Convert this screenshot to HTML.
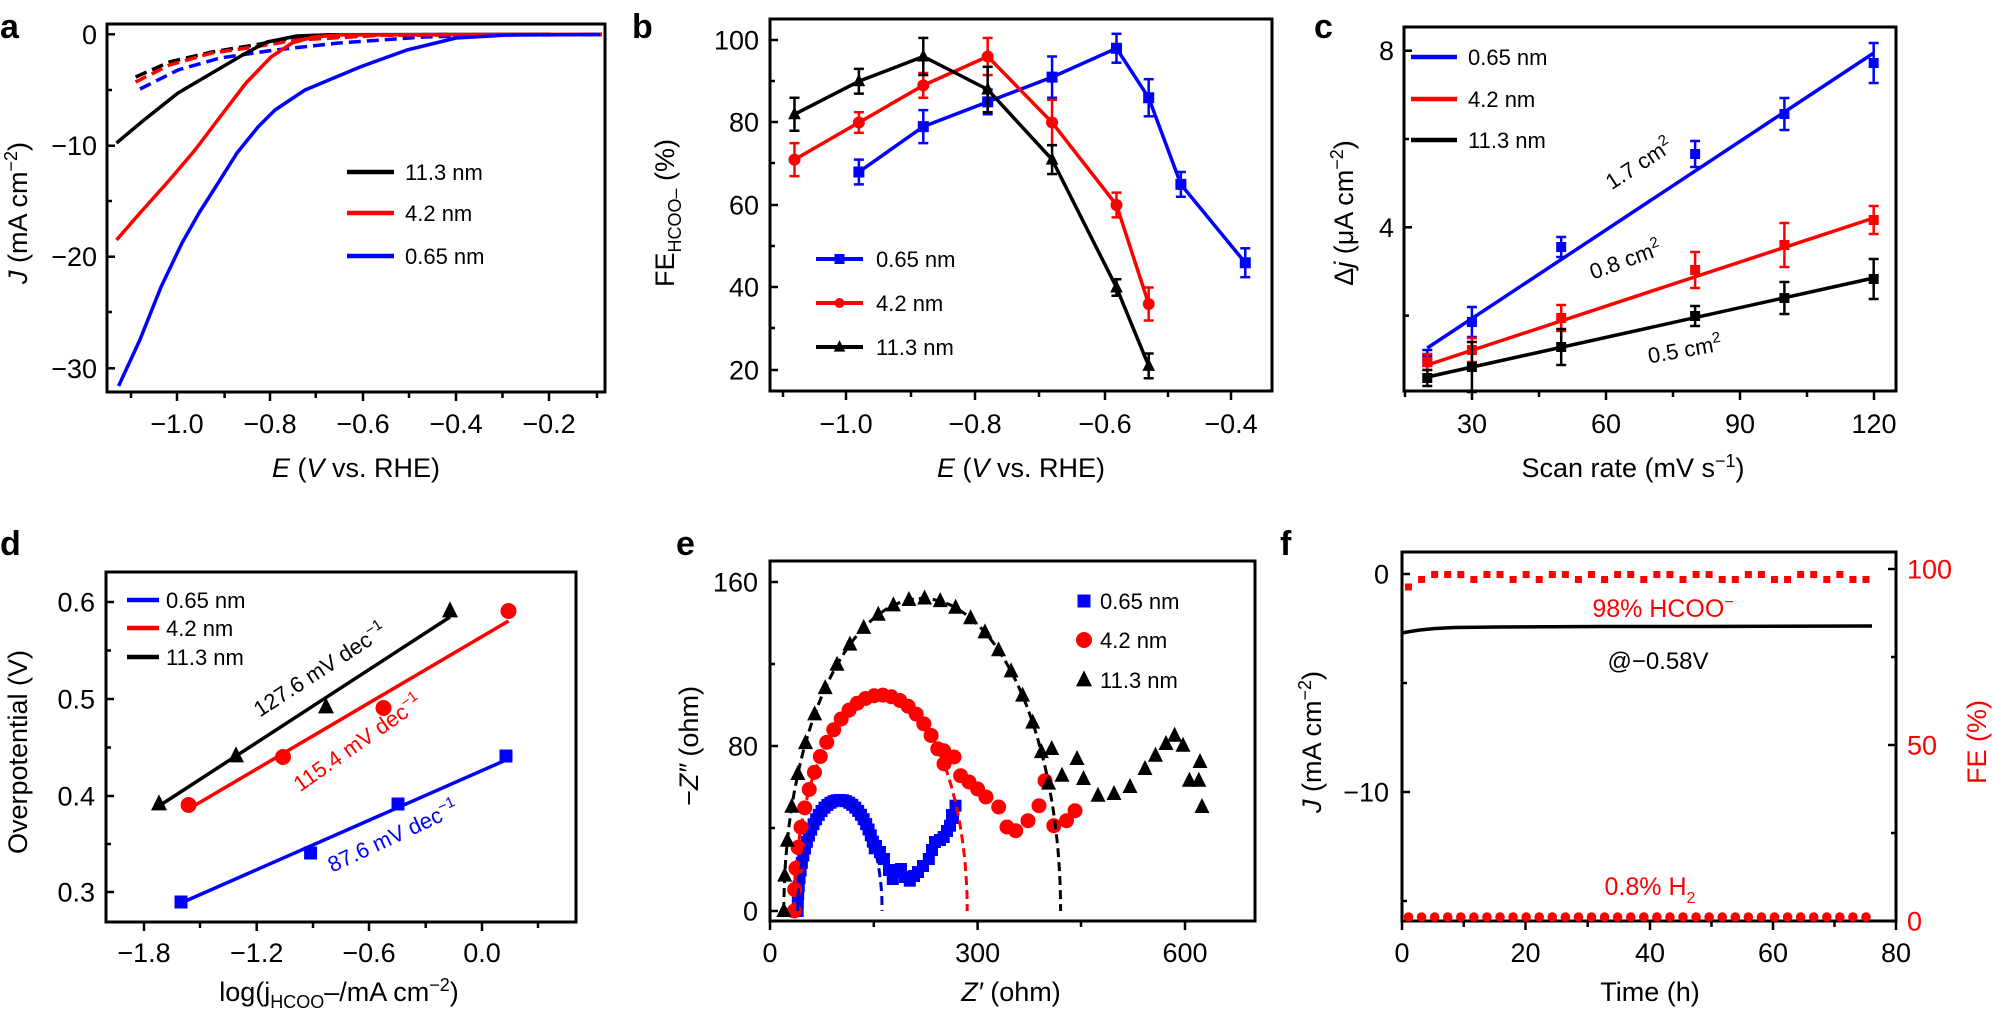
<!DOCTYPE html>
<html><head><meta charset="utf-8">
<style>
html,body{margin:0;padding:0;background:#fff;}
svg{display:block;font-family:"Liberation Sans",Arial,sans-serif;}
</style></head>
<body>
<svg id="s" width="1992" height="1018" viewBox="0 0 1992 1018" xmlns="http://www.w3.org/2000/svg"></svg>
<script>
var o='';
var B='#000',R='#ff0000',U='#0000ff';
function pl(p,c,w,d){o+='<polyline points="'+p.map(function(q){return q[0].toFixed(1)+','+q[1].toFixed(1)}).join(' ')+'" fill="none" stroke="'+c+'" stroke-width="'+w+'"'+(d?' stroke-dasharray="'+d+'"':'')+' stroke-linejoin="round"/>';}
function ln(a,b,c,d,col,w){o+='<line x1="'+a+'" y1="'+b+'" x2="'+c+'" y2="'+d+'" stroke="'+(col||B)+'" stroke-width="'+(w||2)+'"/>';}
function tx(x,y,t,sz,col,anc,ex){o+='<text x="'+x+'" y="'+y+'" font-size="'+sz+'" fill="'+(col||B)+'" text-anchor="'+(anc||'start')+'" '+(ex||'')+'>'+t+'</text>';}
function rt(x,y,t,sz,col,ang){o+='<text transform="translate('+x+','+y+') rotate('+ang+')" font-size="'+sz+'" fill="'+(col||B)+'" text-anchor="middle">'+t+'</text>';}
function sq(x,y,s,c){o+='<rect x="'+(x-s/2)+'" y="'+(y-s/2)+'" width="'+s+'" height="'+s+'" fill="'+c+'"/>';}
function ci(x,y,r,c){o+='<circle cx="'+x+'" cy="'+y+'" r="'+r+'" fill="'+c+'"/>';}
function tr(x,y,s,c){o+='<polygon points="'+x+','+(y-s*0.6)+' '+(x-s/2)+','+(y+s*0.4)+' '+(x+s/2)+','+(y+s*0.4)+'" fill="'+c+'"/>';}
function mk(t,x,y,c,s){if(t=='s')sq(x,y,s,c);else if(t=='c')ci(x,y,s/2,c);else tr(x,y,s*1.15,c);}
function ax(x0,y0,x1,y1,xM,xm,yM,ym,rM,rm){
 o+='<rect x="'+x0+'" y="'+y0+'" width="'+(x1-x0)+'" height="'+(y1-y0)+'" fill="none" stroke="#000" stroke-width="3"/>';
 xM.forEach(function(x){ln(x,y1,x,y1+9,B,2.5)});xm.forEach(function(x){ln(x,y1,x,y1+6,B,2.5)});
 yM.forEach(function(y){ln(x0,y,x0+8,y,B,2.5)});ym.forEach(function(y){ln(x0,y,x0+5,y,B,2.5)});
 if(rM){rM.forEach(function(y){ln(x1,y,x1-8,y,B,2.5)});rm.forEach(function(y){ln(x1,y,x1-5,y,B,2.5)});}
}
var TS=27;
// ===== Panel a =====
tx(0,38,'a',34,B,'start','font-weight="bold"');
ax(107,24,605,392,[177,270,363,456,549],[131,224.6,315.7,409,502.5,597],[34.3,145.7,256.7,368.3],[90,201,312]);
[['0',34.3],['\u221210',145.7],['\u221220',256.7],['\u221230',368.3]].forEach(function(a){tx(97,a[1]+9.5,a[0],TS,B,'end')});
[['\u22121.0',177],['\u22120.8',270],['\u22120.6',363],['\u22120.4',456],['\u22120.2',549]].forEach(function(a){tx(a[1],433,a[0],TS,B,'middle')});
tx(356,477,'<tspan font-style="italic">E</tspan> (<tspan font-style="italic">V</tspan> vs. RHE)',27,B,'middle');
rt(27,213,'<tspan font-style="italic">J</tspan> (mA cm<tspan dy="-10" font-size="18">\u22122</tspan><tspan dy="10">)</tspan>',27,B,-90);
pl([[135.6,77],[169.5,62],[212,52],[254,45],[297,37.5],[381,35],[450,34.5]],B,3.5,'12 6');
pl([[135.6,82],[169.5,65],[212,53],[254,47],[297,40],[381,35.3],[602,34.7]],R,3.5,'12 6');
pl([[140,89],[178,70],[220,58],[275,50],[339,43],[424,37],[508,34.7],[602,34.7]],U,3.5,'12 6');
pl([[116.5,143],[144,120],[178,93],[212,73],[246,53],[267,42],[297,36],[330,34.7],[551,34.3]],B,3.5);
pl([[116.5,240],[140,213],[169.5,180],[195,150],[220,117],[246,83],[271,57],[292,43],[313.5,37],[339,35],[602,34.3]],R,3.5);
pl([[118.6,386],[139.8,340],[161,287],[182,243],[199,213],[220,180],[237,153],[258,127],[275,110],[305,90],[360,67],[407,50],[456,38],[508,35],[600,34.5]],U,3.5);
[[B,'11.3 nm',172],[R,'4.2 nm',213],[U,'0.65 nm',256]].forEach(function(a){ln(347,a[2],394,a[2],a[0],4.5);tx(405,a[2]+8,a[1],22,B)});
// ===== Panel b =====
tx(632,38,'b',34,B,'start','font-weight="bold"');
ax(770,19,1272,391,[846,975,1105,1231],[783,911,1039,1168],[40,122,205,287,370],[81,163,246,328]);
[['100',40],['80',122],['60',205],['40',287],['20',370]].forEach(function(a){tx(759,a[1]+9.5,a[0],TS,B,'end')});
[['\u22121.0',846],['\u22120.8',975],['\u22120.6',1105],['\u22120.4',1231]].forEach(function(a){tx(a[1],433,a[0],TS,B,'middle')});
tx(1021,477,'<tspan font-style="italic">E</tspan> (<tspan font-style="italic">V</tspan> vs. RHE)',27,B,'middle');
rt(674,213,'FE<tspan dy="7" font-size="18">HCOO\u2013</tspan><tspan dy="-7"> (%)</tspan>',27,B,-90);
function bx(v){return 846+(v+1)*644;} function by(v){return 370-(v-20)*4.125;}
function ser(d,c,t,xf,yf,s){var p=d.map(function(q){return [xf(q[0]),yf(q[1])]});pl(p,c,3.5);
 d.forEach(function(q){var x=xf(q[0]),y=yf(q[1]),e=q[2]*4.125;ln(x,y-e,x,y+e,c,2.5);ln(x-5,y-e,x+5,y-e,c,2.5);ln(x-5,y+e,x+5,y+e,c,2.5);mk(t,x,y,c,s)});}
ser([[-0.98,68,3],[-0.88,79,4],[-0.78,85,3],[-0.68,91,5],[-0.58,98,3.5],[-0.53,86,4.5],[-0.48,65,3],[-0.38,46,3.5]],U,'s',bx,by,11);
ser([[-1.08,71,4],[-0.98,80,2.5],[-0.88,89,3],[-0.78,96,4.5],[-0.68,80,5.5],[-0.58,60,3],[-0.53,36,4]],R,'c',bx,by,12);
ser([[-1.08,82,4],[-0.98,90,3],[-0.88,96,4.5],[-0.78,88,5.5],[-0.68,71,3.5],[-0.58,40,2],[-0.53,21,3]],B,'t',bx,by,11);
[[U,'0.65 nm',259,'s'],[R,'4.2 nm',303,'c'],[B,'11.3 nm',347,'t']].forEach(function(a){ln(816,a[2],863,a[2],a[0],4);mk(a[3],839.5,a[2],a[0],10);tx(876,a[2]+8,a[1],22,B)});
// ===== Panel c =====
tx(1314,38,'c',34,B,'start','font-weight="bold"');
ax(1404,27,1896,391,[1472,1606,1740,1874],[1405,1539,1673,1807],[50.7,227.3],[139,315.6]);
[['8',50.7],['4',227.3]].forEach(function(a){tx(1394,a[1]+9.5,a[0],TS,B,'end')});
[['30',1472],['60',1606],['90',1740],['120',1874]].forEach(function(a){tx(a[1],433,a[0],TS,B,'middle')});
tx(1633,477,'Scan rate (mV s<tspan dy="-10" font-size="18">\u22121</tspan><tspan dy="10">)</tspan>',27,B,'middle');
rt(1353,213,'\u0394<tspan font-style="italic">j</tspan> (\u03bcA cm<tspan dy="-10" font-size="18">\u22122</tspan><tspan dy="10">)</tspan>',27,B,-90);
function cx(v){return 1338+v*4.464;}
function cs(pts,line,c){pl([[cx(20),line[0]],[cx(120),line[1]]],c,3.5);pts.forEach(function(q){var x=cx(q[0]),y=q[1],e=q[2];ln(x,y-e,x,y+e,c,2.5);ln(x-5,y-e,x+5,y-e,c,2.5);ln(x-5,y+e,x+5,y+e,c,2.5);sq(x,y,10,c)});}
cs([[20,358,8],[30,322,15],[50,247,10],[80,154,13],[100,114,16],[120,63,20]],[348,53],U);
cs([[20,362,8],[30,350,12],[50,318,13],[80,270,18],[100,245,22],[120,220,14]],[365,218],R);
cs([[20,378,8],[30,367,25],[50,347,18],[80,316,10],[100,298,16],[120,279,20]],[377,278],B);
[[U,'0.65 nm',57],[R,'4.2 nm',99],[B,'11.3 nm',140]].forEach(function(a){ln(1411,a[2],1457,a[2],a[0],4.5);tx(1468,a[2]+8,a[1],22,B)});
rt(1643,170,'1.7 cm<tspan dy="-9" font-size="15">2</tspan>',22,B,-33);
rt(1628,267,'0.8 cm<tspan dy="-9" font-size="15">2</tspan>',22,B,-20);
rt(1686,357,'0.5 cm<tspan dy="-9" font-size="15">2</tspan>',22,B,-10);
// ===== Panel d =====
tx(0,555,'d',34,B,'start','font-weight="bold"');
ax(106,572,576,922,[144,256.7,369,482],[200,313,425.7,538],[602,699,796,892],[650.5,747.5,844]);
[['0.6',602],['0.5',699],['0.4',796],['0.3',892]].forEach(function(a){tx(95,a[1]+9.5,a[0],TS,B,'end')});
[['\u22121.8',144],['\u22121.2',256.7],['\u22120.6',369],['0.0',482]].forEach(function(a){tx(a[1],962,a[0],TS,B,'middle')});
tx(339,1001,'log(j<tspan dy="7" font-size="18">HCOO</tspan><tspan dy="-7">\u2013/mA cm</tspan><tspan dy="-10" font-size="18">\u22122</tspan><tspan dy="10">)</tspan>',27,B,'middle');
rt(27,752,'Overpotential (V)',27,B,-90);
pl([[159,806],[450,617]],B,3.5);[[159,804],[236,756],[326,707],[450,611]].forEach(function(p){tr(p[0],p[1],16,B)});
pl([[188.6,809],[508.5,621]],R,3.5);[[188.6,805],[283,757],[383.5,708],[508.5,611]].forEach(function(p){ci(p[0],p[1],8,R)});
pl([[181,903],[506,760]],U,3.5);[[181,902],[310.6,853],[398,804],[506,756]].forEach(function(p){sq(p[0],p[1],13,U)});
[[U,'0.65 nm',600],[R,'4.2 nm',628],[B,'11.3 nm',657]].forEach(function(a){ln(127,a[2],159,a[2],a[0],4.5);tx(166,a[2]+8,a[1],22,B)});
rt(324,676,'127.6 mV dec<tspan dy="-9" font-size="15">\u22121</tspan>',22,B,-33);
rt(362,749,'115.4 mV dec<tspan dy="-9" font-size="15">\u22121</tspan>',22,R,-35);
rt(396,843,'87.6 mV dec<tspan dy="-9" font-size="15">\u22121</tspan>',22,U,-25);
// ===== Panel e =====
tx(676,555,'e',34,B,'start','font-weight="bold"');
ax(770,561,1255,921,[770,977.6,1185],[873.8,1081],[582,746,911],[664,828]);
[['160',582],['80',746],['0',911]].forEach(function(a){tx(758,a[1]+9.5,a[0],TS,B,'end')});
[['0',770],['300',977.6],['600',1185]].forEach(function(a){tx(a[1],962,a[0],TS,B,'middle')});
tx(1011,1001,'<tspan font-style="italic">Z\u2032</tspan> (ohm)',27,B,'middle');
rt(698,746,'\u2212<tspan font-style="italic">Z\u2033</tspan> (ohm)',27,B,-90);
function ex(z){return 770+0.692*z;} function ey(z){return 911-2.056*z;}
function ell(c,a,b,t0,t1,n){var p=[];for(var i=0;i<=n;i++){var t=t0+(t1-t0)*i/n;p.push([ex(c+a*Math.cos(t)),ey(b*Math.sin(t))]);}return p;}
ell(101,61,54,Math.PI,0.6,34).forEach(function(p){sq(p[0],p[1],12,U)});
[[876,846],[880,852],[884,859],[889,870],[892.8,879],[897,872],[901,869],[905,877],[909.8,880.7],[914,876],[918,872],[923,866],[928.8,859],[932,850],[935,842],[940,840],[943.7,837],[947,831],[950,825.7],[952,815],[955.5,805.7],[953,818]].forEach(function(p){sq(p[0],p[1],12,U)});
ell(160,125,105,Math.PI,0.75,24).forEach(function(p){ci(p[0],p[1],7.5,R)});
[[943.7,750.7],[954,757],[960.6,775.7],[969,782],[977.6,789],[986,797],[998.7,807],[1007,827],[1015.7,830.7],[1028,820.7],[1039,805.7],[1045,780.7],[1053.8,825.7],[1066.5,820.7],[1075,810.7]].forEach(function(p){ci(p[0],p[1],7.5,R)});
ell(220,200,152,Math.PI,0.42,24).forEach(function(p){tr(p[0],p[1],15,B)});
[[1051.7,749],[1062,775.7],[1077,759],[1083.5,779],[1098,795.7],[1114,794],[1130,787],[1145,769],[1155.5,755.7],[1166,744],[1174.6,735.7],[1183,745.7],[1189.4,780.7],[1198.8,780.7],[1200,762],[1202,807]].forEach(function(p){tr(p[0],p[1],15,B)});
pl(ell(220,200,152,Math.PI,0,80),B,3,'9 5');
pl(ell(160,125,105,Math.PI,0,70),R,3,'9 5');
pl(ell(101,61,54,Math.PI,0,50),'#0000cc',3,'9 5');
sq(1084,601,13,U);tx(1100,609,'0.65 nm',22,B);
ci(1084,640,8,R);tx(1100,648,'4.2 nm',22,B);
tr(1084,680,16,B);tx(1100,688,'11.3 nm',22,B);
// ===== Panel f =====
tx(1280,555,'f',34,B,'start','font-weight="bold"');
ax(1402,552,1896,921,[1402,1525.5,1650,1773,1896],[1463.7,1587.7,1711.5,1834.5],[574,792],[683,901],[569,745,921],[657,833]);
[['0',574],['\u221210',792]].forEach(function(a){tx(1389,a[1]+9.5,a[0],TS,B,'end')});
[['100',569],['50',745],['0',921]].forEach(function(a){tx(1907,a[1]+9.5,a[0],TS,R,'start')});
[['0',1402],['20',1525.5],['40',1650],['60',1773],['80',1896]].forEach(function(a){tx(a[1],962,a[0],TS,B,'middle')});
tx(1650,1001,'Time (h)',27,B,'middle');
rt(1321,742,'<tspan font-style="italic">J</tspan> (mA cm<tspan dy="-10" font-size="18">\u22122</tspan><tspan dy="10">)</tspan>',27,B,-90);
rt(1986,742,'FE (%)',27,R,-90);
pl([[1402,633],[1410,631.5],[1420,630],[1435,628.5],[1455,627.5],[1500,627],[1600,626.5],[1700,626.5],[1872,626]],B,3.5);
var off=[4,1,-1,-1,-1,1,-1,-1,1,-1,1,-1,-1,1,-1,1,-1,-1,1,-1,-1,1,-1,-1,1,1,-1,-1,1,1,-1,-1,1,-1,1,1];
for(var i=0;i<36;i++){var x=1408.5+i*(1866-1408.5)/35;sq(x,577+off[i]*2.5,7,R);ci(x,917,4.8,R);}
tx(1663,617,'98% HCOO<tspan dy="-10" font-size="16">\u2212</tspan>',25,R,'middle');
tx(1658,669,'@\u22120.58V',24,B,'middle');
tx(1650,895,'0.8% H<tspan dy="8" font-size="16">2</tspan>',25,R,'middle');
document.getElementById('s').innerHTML=o;
</script>
</body></html>
